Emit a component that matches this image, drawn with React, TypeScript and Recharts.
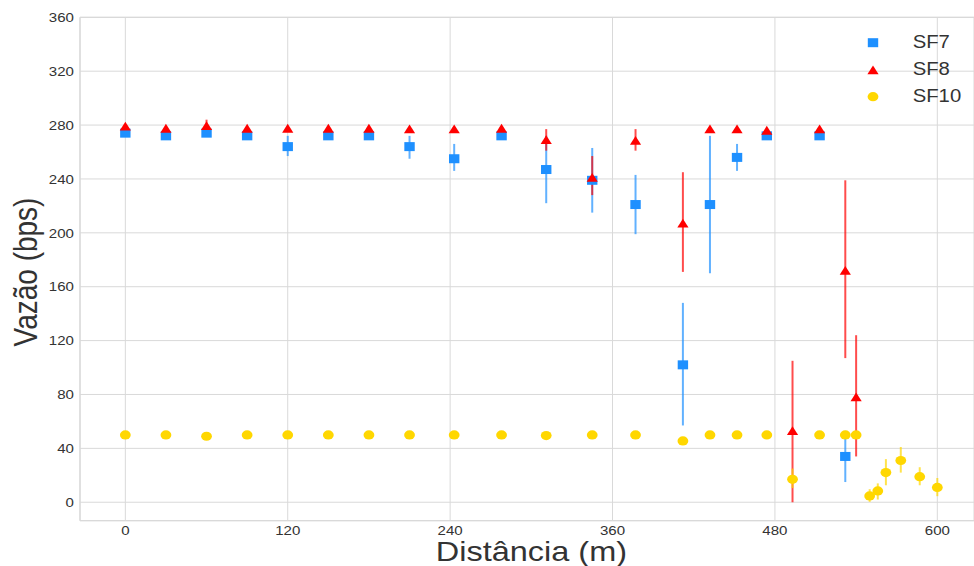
import React from 'react';
import { ScatterChart, Scatter, XAxis, YAxis, CartesianGrid, ErrorBar } from 'recharts';

// ---- data ----
const sf7Dist = [0, 30, 60, 90, 120, 150, 180, 210, 243, 278, 311, 345, 377, 412, 432, 452, 474, 513, 532];
const sf7Value = [274, 272, 274, 272, 264, 272, 272, 264, 255, 272, 247, 239, 221, 102, 221, 256, 272, 272, 34];
const sf7Low = [274, 272, 274, 272, 257, 272, 272, 255, 246, 272, 222, 215, 199, 57, 170, 246, 272, 272, 15];
const sf7High = [274, 272, 274, 272, 272, 272, 272, 272, 266, 272, 272, 263, 243, 148, 272, 266, 272, 272, 53];

const sf8Dist = [0, 30, 60, 90, 120, 150, 180, 210, 243, 278, 311, 345, 377, 412, 432, 452, 474, 493, 513, 532, 540];
const sf8Value = [279, 277.5, 279.5, 277.5, 277.5, 277.5, 277.5, 277, 277, 277.5, 269, 241, 268.5, 207, 277, 277, 276, 53, 277, 172, 78];
const sf8Low = [279, 277.5, 276, 277.5, 277.5, 277.5, 277.5, 277, 277, 277.5, 261, 228, 261, 171, 277, 277, 276, 0, 277, 107, 34];
const sf8High = [279, 277.5, 284, 277.5, 277.5, 277.5, 277.5, 277, 277, 277.5, 277, 257, 277, 245, 277, 277, 276, 105, 277, 239, 124];

const sf10Dist = [0, 30, 60, 90, 120, 150, 180, 210, 243, 278, 311, 345, 377, 412, 432, 452, 474, 493, 513, 532, 540, 550, 556, 562, 573, 587, 600];
const sf10Value = [50, 50, 49, 50, 50, 50, 50, 50, 50, 50, 49.5, 50, 50, 45.5, 50, 50, 50, 17, 50, 50, 50, 4.7, 8.4, 22, 31, 19, 11];
const sf10Low = [50, 50, 49, 50, 50, 50, 50, 50, 50, 50, 49.5, 50, 50, 45.5, 50, 50, 50, 10.5, 50, 50, 50, 0.3, 2, 12.6, 22, 12.6, 4.5];
const sf10High = [50, 50, 49, 50, 50, 50, 50, 50, 50, 50, 49.5, 50, 50, 45.5, 50, 50, 50, 25, 50, 50, 50, 9.7, 14, 32, 41, 26, 18];

const xTicks = [0, 120, 240, 360, 480, 600];
const yTicks = [0, 40, 80, 120, 160, 200, 240, 280, 320, 360];
const seriesNames = ['SF7', 'SF8', 'SF10'];
const xTitle = 'Distância (m)';
const yTitle = 'Vazão (bps)';

const build = (xs: number[], vs: number[], lo: number[], hi: number[]) =>
  xs.map((x, i) => ({ x, y: vs[i], err: [vs[i] - lo[i], hi[i] - vs[i]] }));

const sf7Data = build(sf7Dist, sf7Value, sf7Low, sf7High);
const sf8Data = build(sf8Dist, sf8Value, sf8Low, sf8High);
const sf10Data = build(sf10Dist, sf10Value, sf10Low, sf10High);

// ---- style ----
const W = 974;
const H = 566;
const SX = 1.16;
const FONT = '"Liberation Sans", Arial, sans-serif';
const TEXT = '#333333';
const GRID = '#d9d9d9';
const BLUE = '#1E90FF';
const RED = '#FF0000';
const GOLD = '#FFD700';

const Square = (p: any) =>
  p.cx == null ? null : <rect x={p.cx - 5.2} y={p.cy - 4.5} width={10.4} height={9} fill={BLUE} />;
const Tri = (p: any) =>
  p.cx == null ? null : (
    <polygon points={`${p.cx},${p.cy - 4.6} ${p.cx - 5.6},${p.cy + 4.2} ${p.cx + 5.6},${p.cy + 4.2}`} fill={RED} />
  );
const Dot = (p: any) =>
  p.cx == null ? null : <ellipse cx={p.cx} cy={p.cy} rx={5.4} ry={4.6} fill={GOLD} />;

const XTick = (p: any) => (
  <g transform={`translate(${p.x},${p.y + 13.8}) scale(${SX},1)`}>
    <text x={0} y={0} textAnchor="middle" fontSize={13} fontFamily={FONT} fill={TEXT}>
      {p.payload.value}
    </text>
  </g>
);
const YTick = (p: any) => (
  <g transform={`translate(${p.x - 6},${p.y}) scale(${SX},1)`}>
    <text x={0} y={0} dy="0.36em" textAnchor="end" fontSize={13} fontFamily={FONT} fill={TEXT}>
      {p.payload.value}
    </text>
  </g>
);

export default function App() {
  const legendY = [42.7, 70, 96.7];
  return (
    <div style={{ position: 'absolute', left: 0, top: 0, width: W, height: H, background: '#fff' }}>
      <ScatterChart width={W} height={H} margin={{ top: 17.3, right: 0, bottom: 0, left: 0 }}>
        <CartesianGrid stroke={GRID} strokeWidth={1} vertical horizontal />
        <XAxis
          type="number"
          dataKey="x"
          domain={[-33.5, 627.1]}
          ticks={xTicks}
          allowDataOverflow
          height={45.3}
          tickSize={0}
          tickMargin={0}
          tickLine={false}
          axisLine={{ stroke: GRID, strokeWidth: 1.2 }}
          tick={XTick}
          interval={0}
        />
        <YAxis
          type="number"
          dataKey="y"
          domain={[-13.7, 360]}
          ticks={yTicks}
          allowDataOverflow
          width={80}
          tickSize={0}
          tickMargin={0}
          tickLine={false}
          axisLine={{ stroke: GRID, strokeWidth: 1.2 }}
          tick={YTick}
          interval={0}
        />
        <Scatter name={seriesNames[0]} data={sf7Data} shape={Square} isAnimationActive={false}>
          <ErrorBar dataKey="err" direction="y" width={0} strokeWidth={2} stroke={BLUE} strokeOpacity={0.7} isAnimationActive={false} />
        </Scatter>
        <Scatter name={seriesNames[1]} data={sf8Data} shape={Tri} isAnimationActive={false}>
          <ErrorBar dataKey="err" direction="y" width={0} strokeWidth={2} stroke={RED} strokeOpacity={0.7} isAnimationActive={false} />
        </Scatter>
        <Scatter name={seriesNames[2]} data={sf10Data} shape={Dot} isAnimationActive={false}>
          <ErrorBar dataKey="err" direction="y" width={0} strokeWidth={2} stroke={GOLD} strokeOpacity={0.7} isAnimationActive={false} />
        </Scatter>
        <g>
          <line x1={80} y1={17.3} x2={W} y2={17.3} stroke={GRID} strokeWidth={1.2} />
          <g transform={`translate(531.4,560.7) scale(${SX},1)`}>
            <text x={0} y={0} textAnchor="middle" fontSize={28} fontFamily={FONT} fill={TEXT}>{xTitle}</text>
          </g>
          <g transform={`translate(36.5,272) scale(${SX},1) rotate(-90)`}>
            <text x={0} y={0} textAnchor="middle" fontSize={28} fontFamily={FONT} fill={TEXT}>{yTitle}</text>
          </g>
          <Square cx={873} cy={legendY[0]} />
          <Tri cx={873} cy={legendY[1]} />
          <Dot cx={873} cy={legendY[2]} />
          {seriesNames.map((n, i) => (
            <g key={n} transform={`translate(912.7,${legendY[i] + 5}) scale(${SX},1)`}>
              <text x={0} y={0} fontSize={17.5} fontFamily={FONT} fill={TEXT}>{n}</text>
            </g>
          ))}
        </g>
      </ScatterChart>
    </div>
  );
}
